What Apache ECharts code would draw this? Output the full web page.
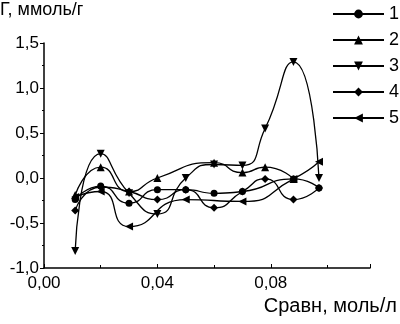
<!DOCTYPE html>
<html>
<head>
<meta charset="utf-8">
<script src="https://cdn.jsdelivr.net/npm/echarts@6/dist/echarts.min.js"></script>
<style>
  html, body { margin: 0; padding: 0; background: #fff; }
  #chart { width: 400px; height: 324px; }
</style>
</head>
<body>
<div id="chart"></div>
<script>
// концентрация, моль/л
var conc = [0.011, 0.02, 0.03, 0.04, 0.05, 0.06, 0.07, 0.078, 0.088, 0.097];
// адсорбция Г, ммоль/г (null - точки нет)
var s1 = [-0.24, -0.09, -0.28, -0.13, -0.13, -0.17, -0.15, null, -0.01, -0.11];
var s2 = [-0.19, 0.12, -0.15, 0.0, null, 0.17, 0.06, 0.12, -0.01, null];
var s3 = [-0.81, 0.27, -0.17, -0.40, 0.0, 0.15, 0.14, 0.55, 1.29, 0.0];
var s4 = [-0.36, -0.10, -0.15, -0.24, -0.13, -0.33, -0.15, -0.01, -0.24, -0.11];
var s5 = [-0.21, -0.15, -0.54, null, -0.24, null, -0.26, null, -0.01, 0.18];
var names = ['1', '2', '3', '4', '5'];
var xTicks = [0, 0.04, 0.08];

var symbols = [
    'circle',
    'triangle',
    'path://M0,0L10,0L5,10Z',   // вниз
    'diamond',
    'path://M10,0L10,10L0,5Z'   // влево
];

var font = 'Liberation Sans, Arial, sans-serif';

function pairs(arr) {
    var out = [];
    arr.forEach(function (v, i) {
        if (v !== null) out.push([conc[i], v]);
    });
    return out;
}

var chart = echarts.init(document.getElementById('chart'));

var series = [s1, s2, s3, s4, s5].map(function (arr, i) {
    return {
        name: names[i],
        type: 'line',
        data: pairs(arr),
        smooth: 0.6,
        symbol: symbols[i],
        symbolSize: i == 0 ? 7 : 8,
        lineStyle: { color: '#000', width: 1.3 },
        itemStyle: { color: '#000' },
        animation: false
    };
});

var option = {
    animation: false,
    grid: { left: 44, right: 30, top: 43, bottom: 56 },
    legend: {
        orient: 'vertical',
        left: 332,
        top: 5,
        padding: 0,
        itemWidth: 51,
        itemHeight: 11,
        itemGap: 8,
        textStyle: { fontFamily: font, fontSize: 18, color: '#000', lineHeight: 17 },
        data: names
    },
    xAxis: {
        type: 'value',
        min: 0,
        max: 0.115,
        interval: 0.04,
        axisLine: { onZero: false, lineStyle: { color: '#000', width: 1.5 } },
        axisTick: { inside: true, length: 4, lineStyle: { color: '#000' } },
        minorTick: { show: true, splitNumber: 2, length: 3, lineStyle: { color: '#000' } },
        splitLine: { show: false },
        axisLabel: {
            fontFamily: font,
            fontSize: 17,
            color: '#000',
            margin: 7,
            formatter: function (v) {
                for (var i = 0; i < xTicks.length; i++) {
                    if (Math.abs(v - xTicks[i]) < 1e-6) return xTicks[i].toFixed(2).replace('.', ',');
                }
                return '';
            }
        }
    },
    yAxis: {
        type: 'value',
        min: -1,
        max: 1.5,
        interval: 0.5,
        axisLine: { onZero: false, lineStyle: { color: '#000', width: 1.5 } },
        axisTick: { length: 4, lineStyle: { color: '#000' } },
        minorTick: { show: true, splitNumber: 2, length: 2, lineStyle: { color: '#000' } },
        splitLine: { show: false },
        axisLabel: {
            fontFamily: font,
            fontSize: 17,
            color: '#000',
            margin: 5,
            formatter: function (v) { return v.toFixed(1).replace('.', ','); }
        }
    },
    graphic: [
        {
            type: 'text', left: 0, top: 1,
            style: { text: 'Г, ммоль/г', font: '18px ' + font, fill: '#000' }
        },
        {
            type: 'text', right: 3, top: 296,
            style: { text: 'Сравн, моль/л', font: '20px ' + font, fill: '#000' }
        }
    ],
    series: series
};

chart.setOption(option);
</script>
</body>
</html>
